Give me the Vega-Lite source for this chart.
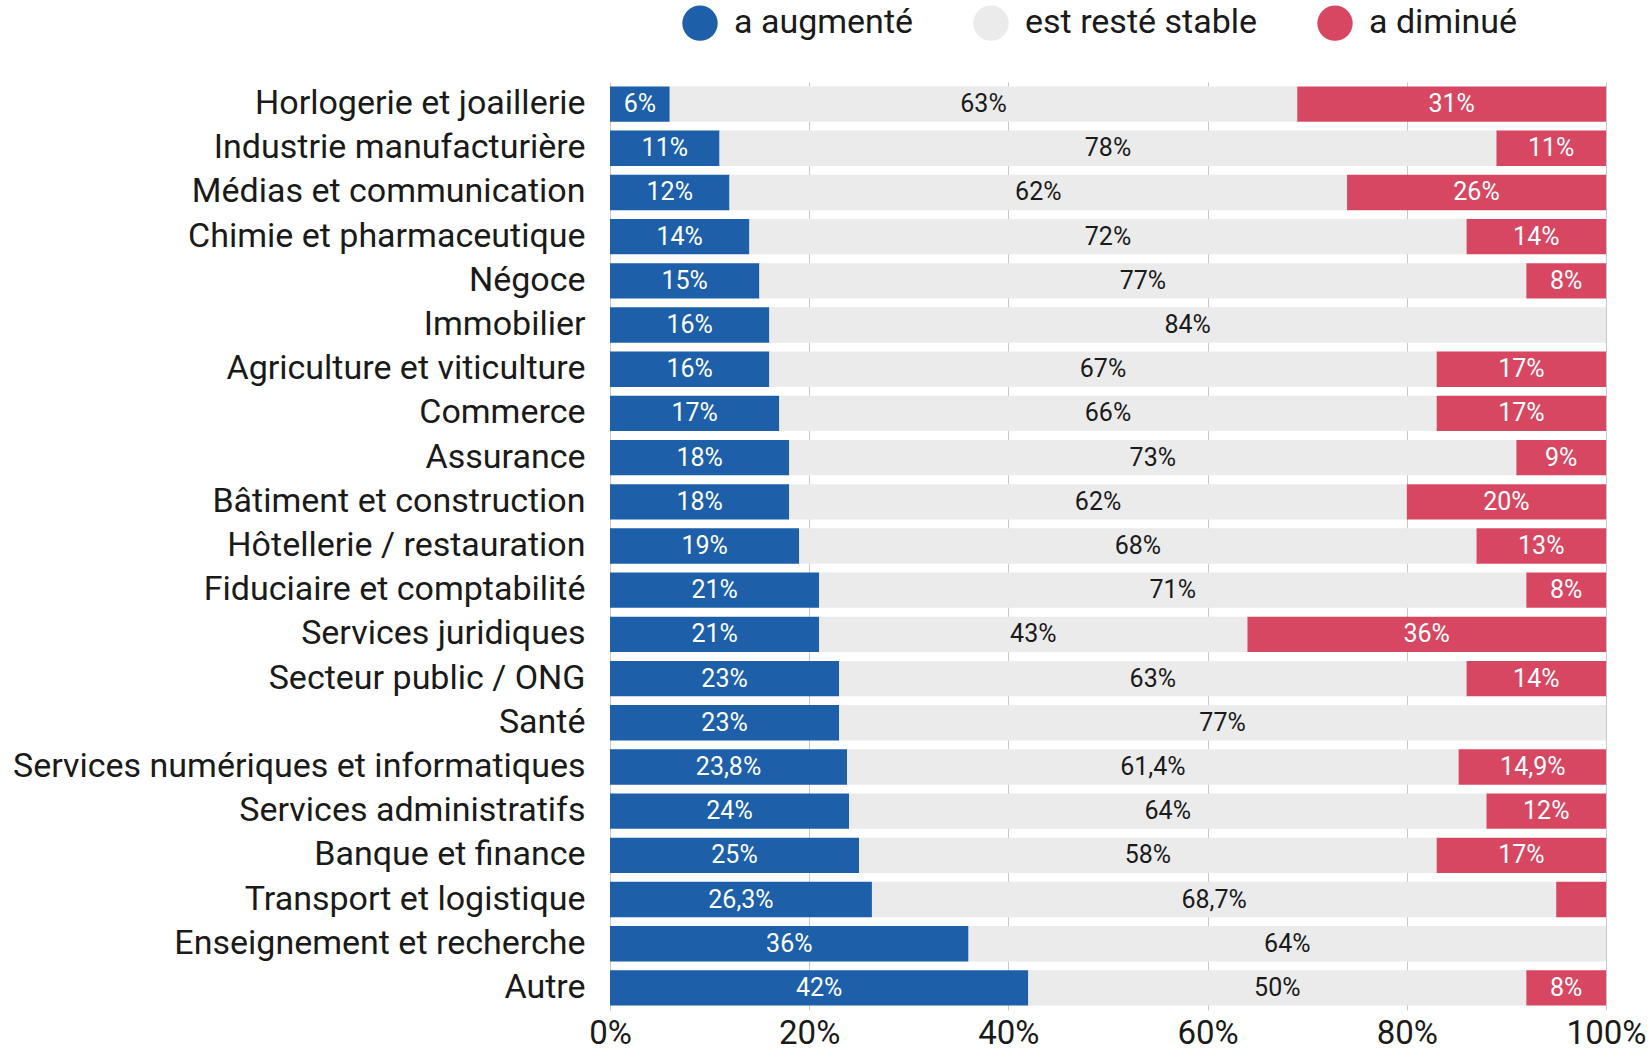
{
  "$schema": "https://vega.github.io/schema/vega-lite/v6.json",
  "width": 996,
  "height": 928,
  "autosize": {"type": "none"},
  "padding": {"left": 610, "top": 82, "right": 45, "bottom": 41},
  "background": "white",
  "config": {
    "font": "Roboto",
    "view": {"stroke": null},
    "locale": {"number": {"decimal": ",", "thousands": " ", "grouping": [3], "currency": ["", " €"]}}
  },
  "data": {
    "values": [
      {"s": "Horlogerie et joaillerie", "c": "a augmenté", "o": 1, "v": 0.06},
      {"s": "Horlogerie et joaillerie", "c": "est resté stable", "o": 2, "v": 0.63},
      {"s": "Horlogerie et joaillerie", "c": "a diminué", "o": 3, "v": 0.31},
      {"s": "Industrie manufacturière", "c": "a augmenté", "o": 1, "v": 0.11},
      {"s": "Industrie manufacturière", "c": "est resté stable", "o": 2, "v": 0.78},
      {"s": "Industrie manufacturière", "c": "a diminué", "o": 3, "v": 0.11},
      {"s": "Médias et communication", "c": "a augmenté", "o": 1, "v": 0.12},
      {"s": "Médias et communication", "c": "est resté stable", "o": 2, "v": 0.62},
      {"s": "Médias et communication", "c": "a diminué", "o": 3, "v": 0.26},
      {"s": "Chimie et pharmaceutique", "c": "a augmenté", "o": 1, "v": 0.14},
      {"s": "Chimie et pharmaceutique", "c": "est resté stable", "o": 2, "v": 0.72},
      {"s": "Chimie et pharmaceutique", "c": "a diminué", "o": 3, "v": 0.14},
      {"s": "Négoce", "c": "a augmenté", "o": 1, "v": 0.15},
      {"s": "Négoce", "c": "est resté stable", "o": 2, "v": 0.77},
      {"s": "Négoce", "c": "a diminué", "o": 3, "v": 0.08},
      {"s": "Immobilier", "c": "a augmenté", "o": 1, "v": 0.16},
      {"s": "Immobilier", "c": "est resté stable", "o": 2, "v": 0.84},
      {"s": "Agriculture et viticulture", "c": "a augmenté", "o": 1, "v": 0.16},
      {"s": "Agriculture et viticulture", "c": "est resté stable", "o": 2, "v": 0.67},
      {"s": "Agriculture et viticulture", "c": "a diminué", "o": 3, "v": 0.17},
      {"s": "Commerce", "c": "a augmenté", "o": 1, "v": 0.17},
      {"s": "Commerce", "c": "est resté stable", "o": 2, "v": 0.66},
      {"s": "Commerce", "c": "a diminué", "o": 3, "v": 0.17},
      {"s": "Assurance", "c": "a augmenté", "o": 1, "v": 0.18},
      {"s": "Assurance", "c": "est resté stable", "o": 2, "v": 0.73},
      {"s": "Assurance", "c": "a diminué", "o": 3, "v": 0.09},
      {"s": "Bâtiment et construction", "c": "a augmenté", "o": 1, "v": 0.18},
      {"s": "Bâtiment et construction", "c": "est resté stable", "o": 2, "v": 0.62},
      {"s": "Bâtiment et construction", "c": "a diminué", "o": 3, "v": 0.20},
      {"s": "Hôtellerie / restauration", "c": "a augmenté", "o": 1, "v": 0.19},
      {"s": "Hôtellerie / restauration", "c": "est resté stable", "o": 2, "v": 0.68},
      {"s": "Hôtellerie / restauration", "c": "a diminué", "o": 3, "v": 0.13},
      {"s": "Fiduciaire et comptabilité", "c": "a augmenté", "o": 1, "v": 0.21},
      {"s": "Fiduciaire et comptabilité", "c": "est resté stable", "o": 2, "v": 0.71},
      {"s": "Fiduciaire et comptabilité", "c": "a diminué", "o": 3, "v": 0.08},
      {"s": "Services juridiques", "c": "a augmenté", "o": 1, "v": 0.21},
      {"s": "Services juridiques", "c": "est resté stable", "o": 2, "v": 0.43},
      {"s": "Services juridiques", "c": "a diminué", "o": 3, "v": 0.36},
      {"s": "Secteur public / ONG", "c": "a augmenté", "o": 1, "v": 0.23},
      {"s": "Secteur public / ONG", "c": "est resté stable", "o": 2, "v": 0.63},
      {"s": "Secteur public / ONG", "c": "a diminué", "o": 3, "v": 0.14},
      {"s": "Santé", "c": "a augmenté", "o": 1, "v": 0.23},
      {"s": "Santé", "c": "est resté stable", "o": 2, "v": 0.77},
      {"s": "Services numériques et informatiques", "c": "a augmenté", "o": 1, "v": 0.238},
      {"s": "Services numériques et informatiques", "c": "est resté stable", "o": 2, "v": 0.614},
      {"s": "Services numériques et informatiques", "c": "a diminué", "o": 3, "v": 0.149},
      {"s": "Services administratifs", "c": "a augmenté", "o": 1, "v": 0.24},
      {"s": "Services administratifs", "c": "est resté stable", "o": 2, "v": 0.64},
      {"s": "Services administratifs", "c": "a diminué", "o": 3, "v": 0.12},
      {"s": "Banque et finance", "c": "a augmenté", "o": 1, "v": 0.25},
      {"s": "Banque et finance", "c": "est resté stable", "o": 2, "v": 0.58},
      {"s": "Banque et finance", "c": "a diminué", "o": 3, "v": 0.17},
      {"s": "Transport et logistique", "c": "a augmenté", "o": 1, "v": 0.263},
      {"s": "Transport et logistique", "c": "est resté stable", "o": 2, "v": 0.687},
      {"s": "Transport et logistique", "c": "a diminué", "o": 3, "v": 0.05},
      {"s": "Enseignement et recherche", "c": "a augmenté", "o": 1, "v": 0.36},
      {"s": "Enseignement et recherche", "c": "est resté stable", "o": 2, "v": 0.64},
      {"s": "Autre", "c": "a augmenté", "o": 1, "v": 0.42},
      {"s": "Autre", "c": "est resté stable", "o": 2, "v": 0.50},
      {"s": "Autre", "c": "a diminué", "o": 3, "v": 0.08}
    ]
  },
  "encoding": {
    "y": {
      "field": "s",
      "type": "nominal",
      "sort": null,
      "title": null,
      "scale": {"paddingInner": 0.2, "paddingOuter": 0.1},
      "axis": {
        "labelFontSize": 34,
        "labelColor": "#1a1a1a",
        "ticks": false,
        "domain": false,
        "labelPadding": 25,
        "labelLimit": 800
      }
    }
  },
  "layer": [
    {
      "mark": {"type": "bar"},
      "encoding": {
        "x": {
          "field": "v",
          "type": "quantitative",
          "stack": "zero",
          "title": null,
          "scale": {"domain": [0, 1], "clamp": true, "nice": false},
          "axis": {
            "values": [0, 0.2, 0.4, 0.6, 0.8, 1],
            "format": "%",
            "labelFontSize": 33,
            "labelColor": "#1a1a1a",
            "labelFlush": false,
            "labelPadding": 7,
            "ticks": false,
            "domain": false,
            "grid": true,
            "gridColor": "#c8c8c8"
          }
        },
        "color": {
          "field": "c",
          "type": "nominal",
          "scale": {
            "domain": ["a augmenté", "est resté stable", "a diminué"],
            "range": ["#1d5fa9", "#ebebeb", "#d84762"]
          },
          "legend": {
            "orient": "none",
            "legendX": 72,
            "legendY": -77,
            "direction": "horizontal",
            "title": null,
            "symbolType": "circle",
            "symbolSize": 1250,
            "symbolStrokeWidth": 0,
            "labelFontSize": 34,
            "labelLimit": 600,
            "labelColor": "#1a1a1a",
            "labelOffset": 16,
            "columnPadding": 59
          }
        },
        "order": {"field": "o", "type": "quantitative"}
      }
    },
    {
      "transform": [{"filter": "datum.v >= 0.055"}],
      "mark": {"type": "text", "fontSize": 25, "baseline": "middle", "align": "center"},
      "encoding": {
        "x": {"field": "v", "type": "quantitative", "stack": "zero", "bandPosition": 0.5},
        "text": {"field": "v", "type": "quantitative", "format": ".1~%"},
        "color": {
          "condition": {"test": "datum.c === 'est resté stable'", "value": "#1a1a1a"},
          "value": "white"
        },
        "order": {"field": "o", "type": "quantitative"}
      }
    }
  ]
}
